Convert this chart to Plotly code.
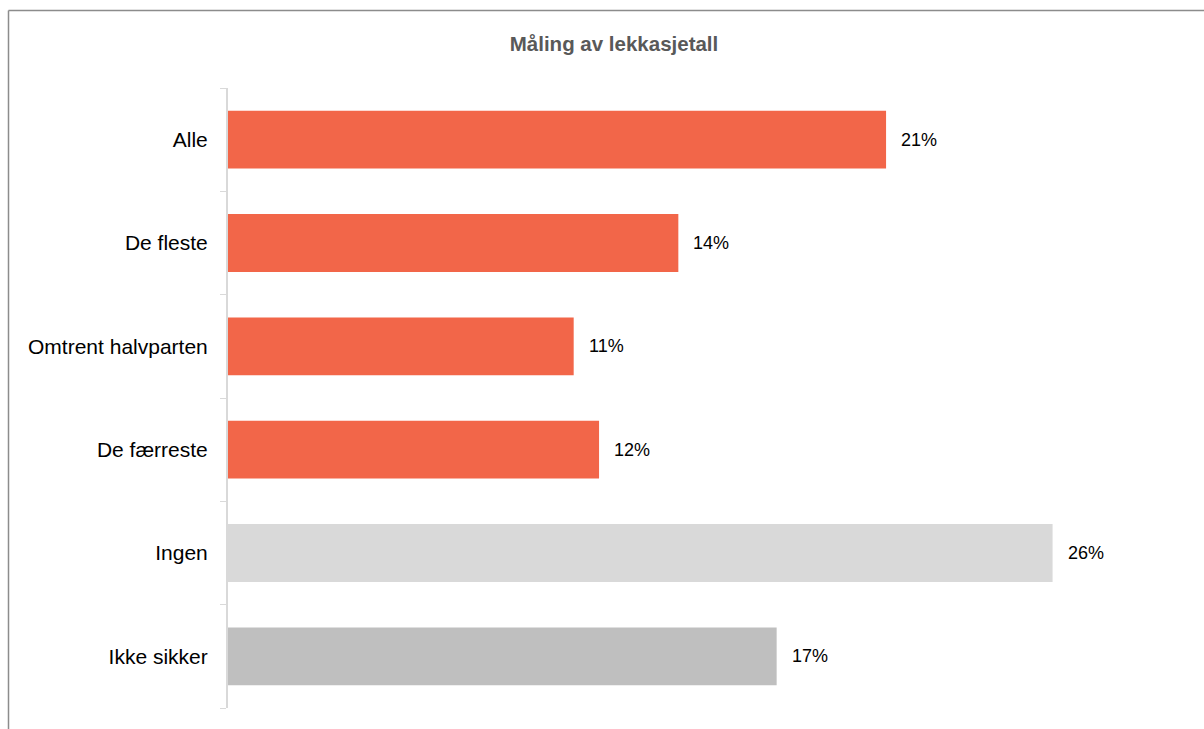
import plotly.graph_objects as go

categories = ["Alle", "De fleste", "Omtrent halvparten", "De færreste", "Ingen", "Ikke sikker"]
values = [20.75, 14.2, 10.9, 11.7, 26.0, 17.3]
labels = ["21%", "14%", "11%", "12%", "26%", "17%"]
colors = ["#F26649", "#F26649", "#F26649", "#F26649", "#D9D9D9", "#BFBFBF"]

fig = go.Figure()
fig.add_trace(go.Bar(
    x=values, y=categories, orientation="h",
    marker=dict(color=colors, line=dict(width=0)),
    hoverinfo="skip", showlegend=False,
))

for v, c, t in zip(values, categories, labels):
    fig.add_annotation(x=v, y=c, text=t, showarrow=False, xanchor="left",
                       xshift=13, font=dict(family="Liberation Sans, Arial", size=18, color="#000000"))

L, R, T, B = 228, 88, 88, 21
W, H = 1204, 729
pw, ph = W - L - R, H - T - B
bx = (8.5 - L) / pw
by = 1 + (T - 10.5) / ph

fig.add_shape(type="line", xref="paper", yref="paper", x0=bx, x1=bx, y0=-0.2, y1=by,
              line=dict(color="#8C8C8C", width=1.5))
fig.add_shape(type="line", xref="paper", yref="paper", x0=bx, x1=1.2, y0=by, y1=by,
              line=dict(color="#8C8C8C", width=1.5))

fig.update_layout(
    width=W, height=H,
    margin=dict(l=L, r=R, t=T, b=B),
    paper_bgcolor="white", plot_bgcolor="white",
    bargap=0.44,
    title=dict(text="<b>Måling av lekkasjetall</b>", x=614 / W, xanchor="center",
               y=1 - 44 / H, yanchor="middle",
               font=dict(family="Liberation Sans, Arial", size=20.5, color="#595959")),
    xaxis=dict(range=[0, 28], showgrid=False, zeroline=False, showticklabels=False,
               showline=False, ticks=""),
    yaxis=dict(categoryorder="array", categoryarray=categories[::-1], autorange=False,
               range=[-0.5, 5.5],
               showgrid=False, zeroline=False, showline=True, linecolor="#D9D9D9", linewidth=2,
               ticks="outside", tickson="boundaries", ticklen=6, tickcolor="#D9D9D9", tickwidth=1,
               ticklabelstandoff=14,
               tickfont=dict(family="Liberation Sans, Arial", size=21, color="#000000")),
)

fig.write_html("out.html")
